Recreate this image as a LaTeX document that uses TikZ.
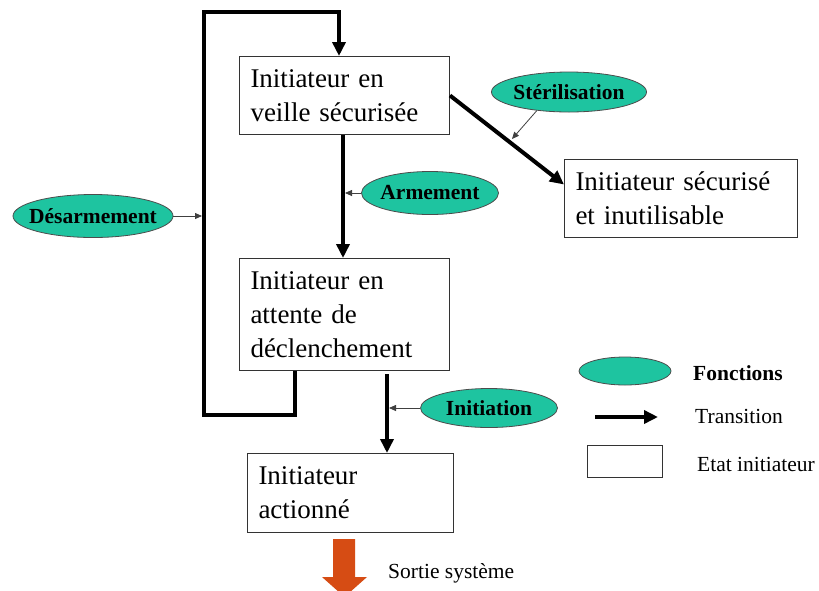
\documentclass[tikz,border=0pt]{standalone}
\usepackage{fontspec}
\setmainfont{Liberation Serif}
\usetikzlibrary{arrows.meta,shapes.geometric}
\definecolor{fnfill}{RGB}{30,196,160}
\definecolor{orng}{RGB}{214,76,20}
\newcommand{\fnlbl}[1]{\makebox[0pt]{#1}}
\begin{document}
\begin{tikzpicture}[x=1pt,y=-1pt,
 statebox/.style={draw=black!80,line width=1pt,inner xsep=11pt,inner ysep=0pt,align=left,
   font=\fontsize{27}{34}\selectfont,anchor=north west},
 fn/.style={ellipse,draw=black!70,line width=0.8pt,fill=fnfill,inner sep=0pt,
   font=\fontsize{21.5}{24}\selectfont\bfseries},
 trans/.style={line width=4pt,line join=miter,-{Triangle[length=14pt,width=13pt]}},
 thinarr/.style={line width=0.8pt,draw=black!75,-{Triangle[length=7pt,width=6pt]}},
 legtext/.style={anchor=west,inner sep=0pt,font=\fontsize{21.5}{24}\selectfont}]
\useasboundingbox (0,0) rectangle (819,590);
\clip (0,0) rectangle (819,590);
\fill[white] (0,0) rectangle (819,590);

% states
\node[statebox,text width=188pt,minimum height=78pt] (veille) at (239,56) {Initiateur en\\veille sécurisée};
\node[statebox,text width=188pt,minimum height=112pt] (attente) at (239,258) {Initiateur en\\attente de\\déclenchement};
\node[statebox,text width=184pt,minimum height=79pt] (actionne) at (247,453) {Initiateur\\actionné};
\node[statebox,text width=211pt,minimum height=78pt] (secur) at (564,159) {Initiateur sécurisé\\et inutilisable};

% functions
\node[fn,minimum width=155pt,minimum height=40pt] (steril) at (569,92) {\fnlbl{Stérilisation}};
\node[fn,minimum width=137pt,minimum height=43pt] (arm) at (430,193) {\fnlbl{Armement}};
\node[fn,minimum width=160pt,minimum height=43pt] (desarm) at (93,216) {\fnlbl{Désarmement}};
\node[fn,minimum width=137pt,minimum height=39pt] (init) at (489,408) {\fnlbl{Initiation}};

% coordinates
\coordinate (c1) at (343,0);
\coordinate (l1) at (295,415);
\coordinate (l2) at (204,415);
\coordinate (l3) at (204,12);
\coordinate (l4) at (339,12);
\coordinate (c3) at (387,374);
\coordinate (sterend) at (512,139);

% transitions
\draw[trans] (veille.south -| c1) -- (attente.north -| c1);
\draw[trans] (attente.south -| l1) -- (l1) -- (l2) -- (l3) -- (l4) -- (veille.north -| l4);
\draw[trans] (c3) -- (actionne.north -| c3);
\draw[trans] (veille.east) -- ([yshift=14pt]secur.west);

% function arrows
\draw[thinarr] (steril.210) -- (sterend);
\draw[thinarr] (arm.west) -- ([xshift=2pt]arm.west -| c1);
\draw[thinarr] (desarm.east) -- ([xshift=-2pt]desarm.east -| l2);
\draw[thinarr] (init.west) -- ([xshift=2pt]init.west -| c3);

% system output arrow
\fill[orng] (333,539) -- (355,539) -- (355,577) -- (367,577) -- (344.5,597) -- (322,577) -- (333,577) -- cycle;
\node[legtext] (sortie) at (388,573) {Sortie système};

% legend
\node[fn,minimum width=92pt,minimum height=28pt] (legfn) at (625,371) {};
\node[legtext,font=\fontsize{21.5}{24}\selectfont\bfseries] (legfntext) at (693,373) {Fonctions};
\coordinate (la1) at (595,417);
\coordinate (la2) at (658,417);
\draw[trans] (la1) -- (la2);
\node[legtext] (legtrtext) at (695,416) {Transition};
\node[draw=black!80,line width=1pt,minimum width=75pt,minimum height=32pt,inner sep=0pt] (legbox) at (624.5,461) {};
\node[legtext] (legboxtext) at (697,464) {Etat initiateur};
\end{tikzpicture}
\end{document}
